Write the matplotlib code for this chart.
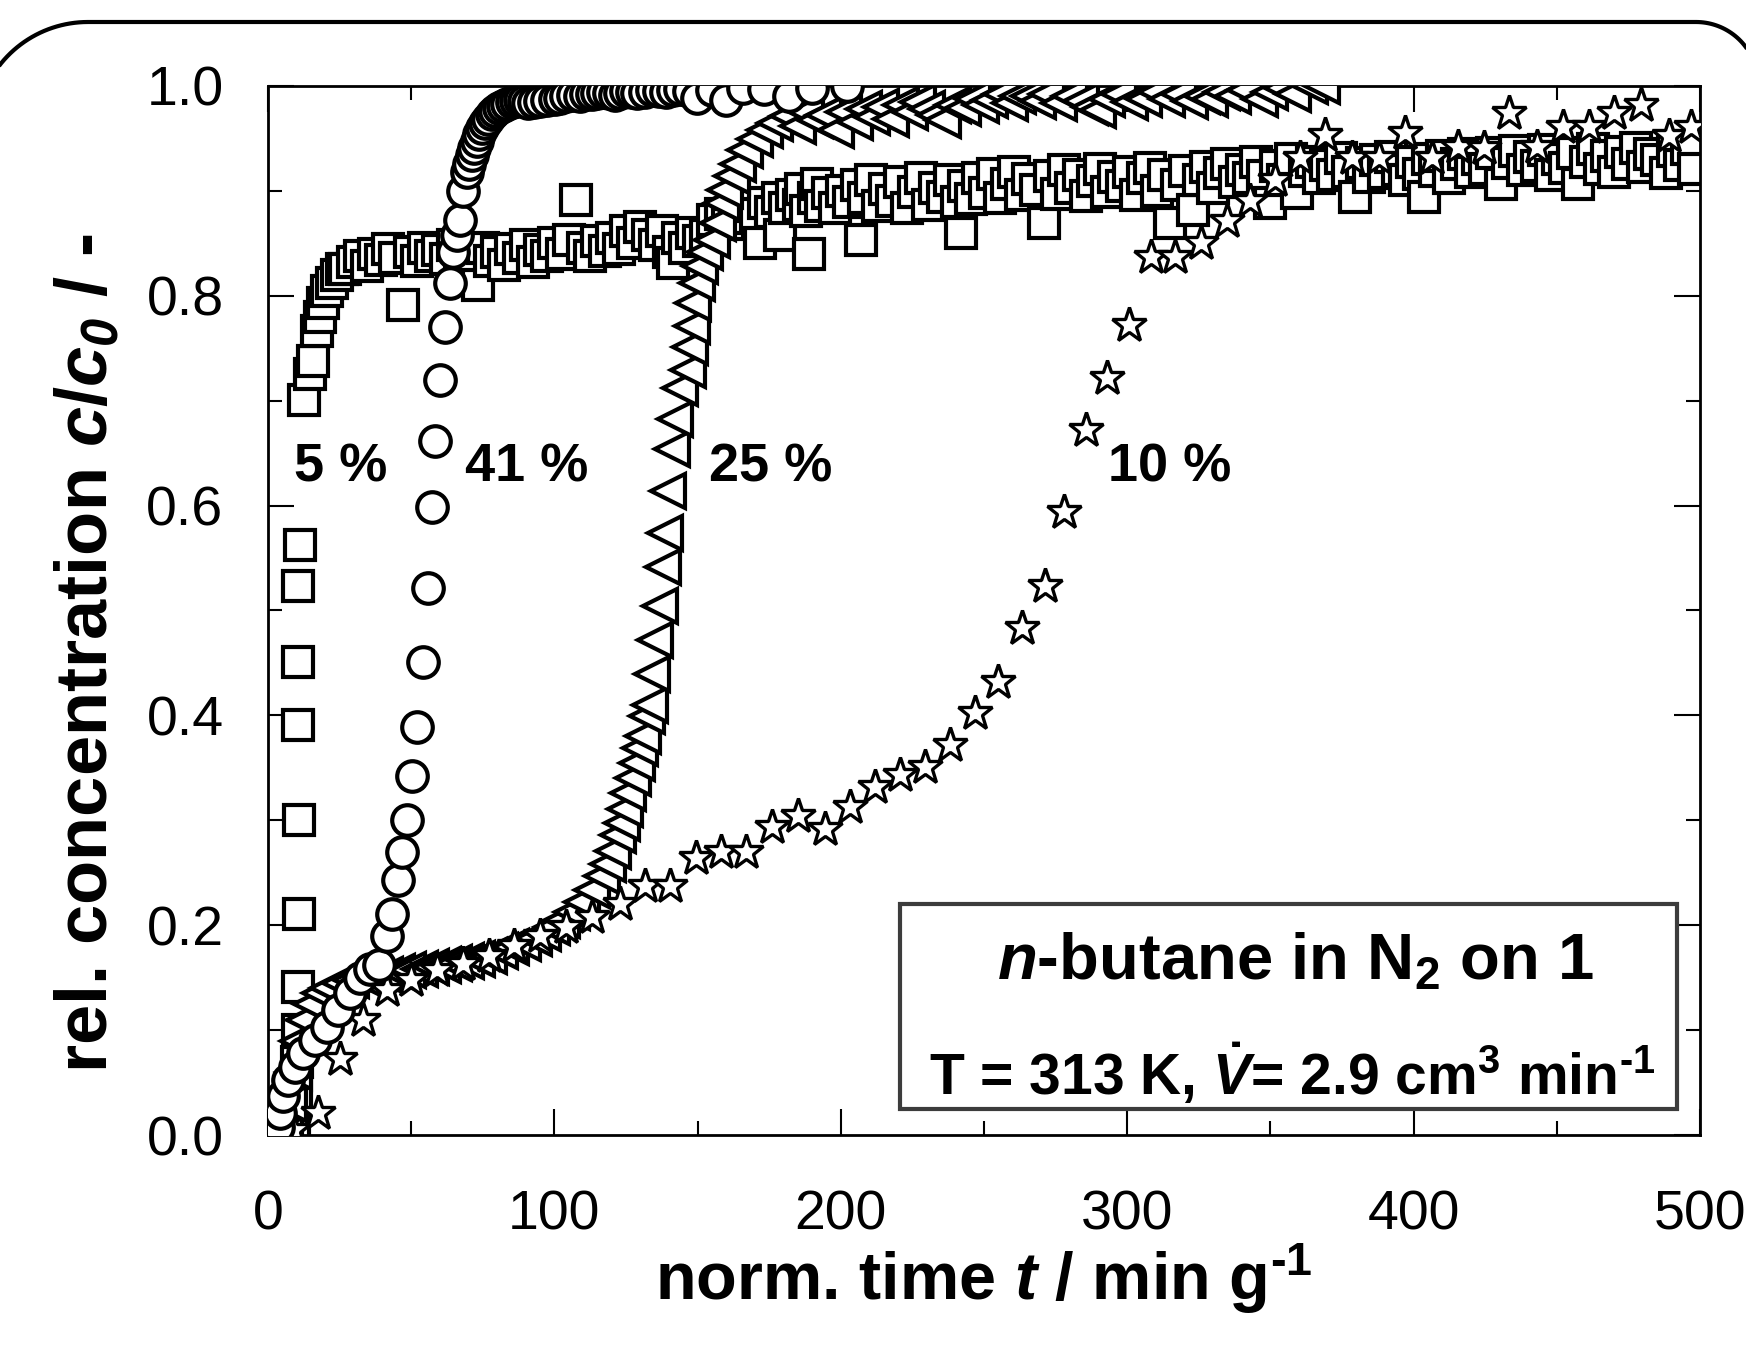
import matplotlib
matplotlib.use("Agg")
import numpy as np
import matplotlib.pyplot as plt
from matplotlib.patches import PathPatch, Rectangle
from matplotlib.path import Path
from matplotlib.transforms import IdentityTransform
from matplotlib.ticker import MultipleLocator

plt.rcParams['font.family'] = ['Liberation Sans', 'DejaVu Sans']
plt.rcParams['mathtext.fontset'] = 'custom'
plt.rcParams['mathtext.rm'] = 'Liberation Sans:bold'
plt.rcParams['mathtext.bf'] = 'Liberation Sans:bold'
plt.rcParams['mathtext.it'] = 'Liberation Sans:bold:italic'
plt.rcParams['mathtext.bfit'] = 'Liberation Sans:bold:italic'

# breakthrough curves, n-butane in N2, relative concentration vs normalised time
t_5 = [9.2, 9.6, 10.0, 10.3, 10.5, 10.7, 10.8, 10.6, 10.6, 10.6, 11.0, 12.4, 14.5, 15.8,
       17.0, 18.2, 19.3, 20.5, 22.2, 24.0, 25.7,
       27, 29.5, 32, 34.5, 37, 39.5, 42, 44.5, 47.2, 49.5, 52, 54.5, 57, 59.5, 62, 64.5,
       67, 69.5, 72, 73.4, 75, 77.5, 80, 82.5, 85, 87.5, 90, 92.5, 95, 97.5, 100, 102.5,
       105, 107.7, 110, 112.5, 115, 117.5, 120, 122.5, 125, 127.5, 130, 132.5, 135, 137.5,
       140, 141.5, 143, 145.5, 148, 150.5, 153, 155.5, 158, 160.5, 163, 165.5, 168, 170.5,
       171.8, 173, 175.5, 178, 178.8, 180.5, 183, 185.5, 186, 188, 189, 190.5, 191.6, 193,
       195.5, 198, 200.5, 203, 205.5, 207, 208, 210.5, 213, 215.5, 218, 220.5, 223, 225.5,
       228, 230.5, 233, 235.5, 238, 240.5, 242, 243, 245.5, 248, 250.5, 253, 255.5, 258,
       260.5, 263, 265.5, 268, 270.8, 273, 275.5, 278, 280.5, 283, 285.5, 288, 290.5, 293,
       295.5, 298, 300.5, 303, 305.5, 308, 310.5, 313, 315, 317.5, 320, 322.8, 325, 327.5,
       330, 332.5, 335, 337.5, 340, 342.5, 345, 347.5, 349.7, 352, 354.5, 357, 359.3, 362,
       364.5, 367, 369.5, 372, 374.5, 377, 379.5, 382, 384.5, 387, 389.5, 392, 394.5, 397,
       399.5, 402, 403.5, 405, 407.5, 410, 412.5, 415, 417.5, 420, 422.5, 425, 427.5, 430.5,
       433, 435.5, 438, 440.5, 443, 445.5, 448, 450.5, 453, 455.5, 457.4, 460, 462.5, 465,
       467.5, 470, 472.5, 475, 477.5, 480, 482.5, 485, 488, 490.5, 493, 495.5, 498]
c_5 = [0.010, 0.040, 0.070, 0.100, 0.141, 0.211, 0.300, 0.391, 0.451, 0.523, 0.562, 0.701,
       0.725, 0.738, 0.766, 0.780, 0.793, 0.805, 0.812, 0.820, 0.826,
       0.826, 0.832, 0.838, 0.828, 0.840, 0.834, 0.845, 0.836, 0.791, 0.842, 0.833, 0.846,
       0.838, 0.844, 0.835, 0.848, 0.831, 0.843, 0.836, 0.810, 0.846, 0.833, 0.842, 0.829,
       0.845, 0.836, 0.848, 0.832, 0.844, 0.838, 0.850, 0.840, 0.853, 0.891, 0.846, 0.838,
       0.852, 0.843, 0.855, 0.845, 0.862, 0.850, 0.866, 0.858, 0.848, 0.862, 0.842, 0.831,
       0.855, 0.846, 0.860, 0.852, 0.858, 0.872, 0.878, 0.868, 0.883, 0.874, 0.886, 0.878,
       0.850, 0.888, 0.880, 0.893, 0.858, 0.884, 0.896, 0.887, 0.902, 0.881, 0.840, 0.893,
       0.907, 0.886, 0.898, 0.884, 0.900, 0.889, 0.906, 0.853, 0.893, 0.910, 0.886, 0.902,
       0.890, 0.908, 0.884, 0.899, 0.912, 0.887, 0.903, 0.894, 0.910, 0.889, 0.860, 0.905,
       0.892, 0.912, 0.898, 0.916, 0.893, 0.907, 0.918, 0.896, 0.911, 0.901, 0.869, 0.914,
       0.897, 0.920, 0.903, 0.915, 0.895, 0.909, 0.921, 0.899, 0.913, 0.905, 0.918, 0.896,
       0.912, 0.922, 0.900, 0.915, 0.869, 0.906, 0.919, 0.882, 0.910, 0.923, 0.903, 0.917,
       0.926, 0.908, 0.920, 0.912, 0.928, 0.914, 0.888, 0.924, 0.910, 0.930, 0.898, 0.919,
       0.928, 0.912, 0.925, 0.915, 0.931, 0.918, 0.894, 0.927, 0.913, 0.929, 0.917, 0.932,
       0.920, 0.910, 0.928, 0.916, 0.894, 0.930, 0.919, 0.933, 0.912, 0.926, 0.935, 0.918,
       0.930, 0.921, 0.936, 0.907, 0.927, 0.938, 0.920, 0.932, 0.924, 0.939, 0.915, 0.930,
       0.922, 0.936, 0.907, 0.928, 0.940, 0.921, 0.933, 0.918, 0.937, 0.926, 0.941, 0.923,
       0.935, 0.929, 0.917, 0.938, 0.925, 0.940, 0.921]

t_41 = [3.6, 4.2, 5.4, 7.1, 9.4, 12.3, 16.4, 20.5, 24.5, 28.6, 32.1, 35.6, 38.9, 41.5,
        43.2, 45.5, 46.7, 48.4, 50.2, 51.9, 54.2, 56.0, 57.2, 58.3, 60.1, 61.8, 63.5, 64.7,
        66.0, 67.0, 68.2, 69.4, 70.2, 71.1, 72.0, 72.9, 73.8, 74.6, 75.7, 76.9, 78.1, 79.3,
        80.7, 82.2, 83.6, 85.1, 86.5, 88.0, 89.4, 90.8, 93.0, 95.0, 97.5, 100.2, 102, 104,
        106.5, 109, 111, 113, 115, 117, 119, 121, 123, 125, 127, 129, 131.5, 134, 136.5, 139,
        141.5, 144, 147, 149.7, 155, 160, 166, 173, 182, 190, 202]
c_41 = [0.008, 0.021, 0.037, 0.052, 0.065, 0.078, 0.091, 0.103, 0.119, 0.135, 0.150,
        0.158, 0.162, 0.190, 0.211, 0.243, 0.270, 0.300, 0.342, 0.389, 0.451, 0.521, 0.599,
        0.662, 0.720, 0.770, 0.812, 0.842, 0.858, 0.872, 0.900, 0.918, 0.926, 0.934, 0.941,
        0.948, 0.954, 0.960, 0.965, 0.969, 0.973, 0.976, 0.979, 0.981, 0.983, 0.985, 0.986,
        0.987, 0.986, 0.984, 0.985, 0.986, 0.987, 0.988, 0.989, 0.990, 0.991, 0.990, 0.992,
        0.992, 0.993, 0.994, 0.993, 0.991, 0.993, 0.995, 0.994, 0.993, 0.994, 0.996, 0.995,
        0.994, 0.996, 0.997, 0.995, 0.989, 0.996, 0.987, 0.998, 0.997, 0.990, 0.998, 1.000]

t_25 = [6, 7.5, 9, 10.5, 12.5, 15, 18, 21, 25, 29, 33, 37, 41, 45, 49, 53, 57, 61, 65, 69,
        73, 77, 81, 85, 89, 93, 96, 99.1, 102.5, 106, 109.5, 113, 116.5, 118.8, 120.6,
        122.3, 123.5, 124.7, 125.8, 127.5, 128.7, 129.9, 131.0, 132.2, 133.4, 134.0, 135.1,
        136.9, 138.0, 138.6, 139.8, 141.0, 142.1, 144.0, 146.8, 147.3, 147.9, 148.5, 149.7,
        150.8, 152.6, 154.9, 157.2, 158.4, 159.6, 161.9, 164.2, 166.6, 170, 173.5, 177,
        181.7, 185, 188, 191, 194, 198.4, 201, 205, 208, 211, 214, 217.5, 221, 224, 227,
        230, 233, 235.7, 239, 242.6, 246, 249, 252, 256, 259, 262, 265.6, 269, 272, 276,
        280, 284, 287, 289.7, 293, 297, 301, 305.9, 310, 314, 318, 322, 326, 329, 333, 337,
        341, 346.4, 350, 354, 358, 363.7, 368]
c_25 = [0.000, 0.030, 0.060, 0.090, 0.110, 0.125, 0.135, 0.140, 0.145, 0.148, 0.150,
        0.152, 0.153, 0.155, 0.157, 0.158, 0.160, 0.162, 0.164, 0.166, 0.168, 0.171, 0.175,
        0.179, 0.183, 0.188, 0.193, 0.198, 0.205, 0.213, 0.222, 0.234, 0.247, 0.258, 0.271,
        0.286, 0.297, 0.311, 0.326, 0.340, 0.355, 0.369, 0.380, 0.399, 0.410, 0.439, 0.472,
        0.504, 0.541, 0.574, 0.614, 0.654, 0.683, 0.712, 0.729, 0.751, 0.771, 0.793, 0.812,
        0.828, 0.842, 0.853, 0.869, 0.888, 0.901, 0.914, 0.926, 0.939, 0.949, 0.958, 0.965,
        0.971, 0.962, 0.975, 0.968, 0.972, 0.958, 0.975, 0.966, 0.978, 0.970, 0.980, 0.969,
        0.982, 0.975, 0.985, 0.978, 0.972, 0.968, 0.982, 0.979, 0.988, 0.982, 0.987, 0.992,
        0.984, 0.990, 0.990, 0.986, 0.992, 0.984, 0.990, 0.986, 0.980, 0.977, 0.988, 0.992,
        0.985, 0.988, 0.994, 0.988, 0.992, 0.986, 0.990, 0.988, 0.994, 0.990, 0.996, 0.988,
        0.994, 0.998, 0.992, 1.000, 1.000]

t_10 = [8.8, 17.5, 25.1, 33.2, 41.5, 50, 59, 68, 77, 86, 95, 104, 113, 122.9, 131.6, 140.4,
        149.5, 158.3, 167, 176, 185, 194.5, 203.2, 211.9, 220.7, 229.4, 238.1, 246.9, 254.9,
        263.1, 271.2, 278.0, 285.5, 293.0, 300.5, 308.2, 316.8, 325.7, 334.9, 342.9, 351.6,
        360.3, 369, 378.5, 388, 396.8, 406.4, 415.4, 424.6, 433.3, 443, 452, 461.2, 469.9,
        479.4, 489.1, 496.8]
c_10 = [0.005, 0.021, 0.072, 0.110, 0.138, 0.148, 0.157, 0.163, 0.171, 0.180, 0.190, 0.198,
        0.208, 0.220, 0.237, 0.237, 0.264, 0.270, 0.270, 0.294, 0.304, 0.292, 0.313, 0.332,
        0.343, 0.351, 0.372, 0.402, 0.432, 0.483, 0.523, 0.594, 0.672, 0.722, 0.772, 0.837,
        0.837, 0.850, 0.871, 0.890, 0.910, 0.931, 0.953, 0.931, 0.931, 0.955, 0.931, 0.942,
        0.941, 0.974, 0.942, 0.961, 0.961, 0.974, 0.982, 0.952, 0.961]

curve_labels = ["5 %", "41 %", "25 %", "10 %"]
label_t = [9.1, 68.8, 153.9, 293.2]
label_c = 0.623

fig = plt.figure(figsize=(17.46, 13.52), dpi=100)
ax = fig.add_axes([0.1535, 0.1605, 0.8202, 0.7759])

mk = dict(linestyle='none', markerfacecolor='white', markeredgecolor='black')
ax.plot(t_5, c_5, marker='s', markersize=21, markeredgewidth=3, zorder=2, **mk)
ax.plot(t_25, c_25, marker='<', markersize=25, markeredgewidth=3, zorder=3, **mk)
ax.plot(t_10, c_10, marker='*', markersize=26, markeredgewidth=2.4, zorder=4, **mk)
ax.plot(t_41, c_41, marker='o', markersize=22, markeredgewidth=3, zorder=5, **mk)

for lab, tx in zip(curve_labels, label_t):
    ax.text(tx, label_c, lab, fontsize=39, fontweight='bold', ha='left', va='baseline',
            zorder=6)

ax.set_xlim(0, 500)
ax.set_ylim(0, 1.0)
ax.xaxis.set_major_locator(MultipleLocator(100))
ax.xaxis.set_minor_locator(MultipleLocator(50))
ax.yaxis.set_major_locator(MultipleLocator(0.2))
ax.yaxis.set_minor_locator(MultipleLocator(0.1))
ax.tick_params(which='both', direction='in', top=True, right=True, width=1.5)
ax.tick_params(which='major', length=19, labelsize=40)
ax.tick_params(axis='x', which='major', pad=39)
ax.tick_params(axis='y', which='major', pad=32)
ax.tick_params(which='minor', length=10)
for sp in ax.spines.values():
    sp.set_linewidth(2)

# condition box in the lower right
box = Rectangle((0.4413, 0.0248), 0.5426, 0.1954, transform=ax.transAxes,
                facecolor='white', edgecolor='#3c3c3c', linewidth=3, zorder=7)
ax.add_patch(box)
ax.text(0.7175, 0.1478, r"$n$-butane in N$_{2}$ on 1", transform=ax.transAxes,
        fontsize=47, fontweight='bold', ha='center', va='baseline', zorder=8)
ax.text(0.715, 0.0386, r"T = 313 K, $\dot{V}$= 2.9 cm$^{3}$ min$^{\text{-1}}$",
        transform=ax.transAxes, fontsize=41, fontweight='bold', ha='center',
        va='baseline', zorder=8)

fig.text(0.5636, 0.0385, r"norm. time $t$ / min g$^{\text{-1}}$", fontsize=48,
         fontweight='bold', ha='center', va='baseline')
fig.text(0.050, 0.517, r"rel. concentration $c/c_{\mathbfit{0}}$ / -", fontsize=52,
         fontweight='bold', rotation=90, ha='center', va='center')

# rounded panel frame drawn in pixels: top edge with two rounded corners,
# sides running off the bottom of the figure
def arc(cx, cy, r, a0, a1, n=40):
    a = np.radians(np.linspace(a0, a1, n))
    return np.column_stack([cx + r * np.cos(a), cy + r * np.sin(a)])

top = 1330
r_left, r_right = 112, 62
x_left, x_right = -24, 1758
pts = np.vstack([
    [[x_left, -50]],
    arc(x_left + r_left, top - r_left, r_left, 180, 90),
    arc(x_right - r_right, top - r_right, r_right, 90, 0),
    [[x_right, -50]],
])
frame = PathPatch(Path(pts), transform=IdentityTransform(), facecolor='none',
                  edgecolor='black', linewidth=3, clip_on=False)
fig.add_artist(frame)

fig.savefig("out.png", dpi=100)
plt.close(fig)
